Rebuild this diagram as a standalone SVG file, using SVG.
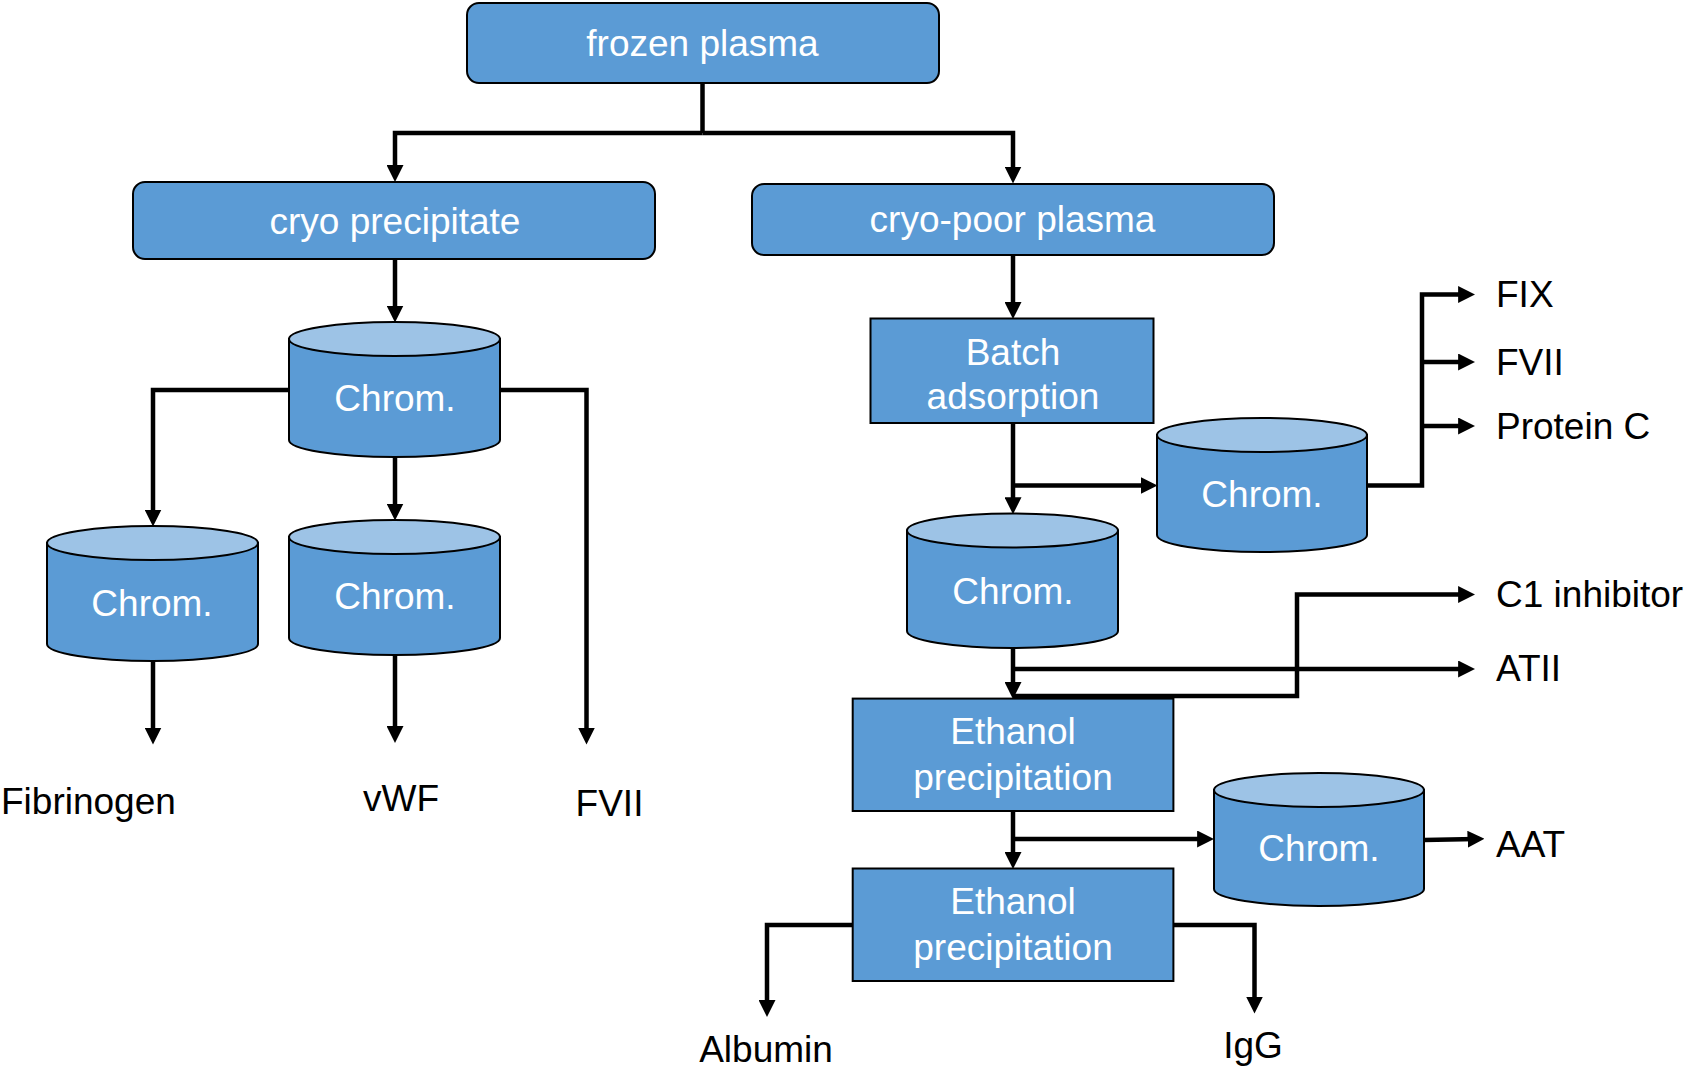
<svg xmlns="http://www.w3.org/2000/svg" width="1684" height="1074" viewBox="0 0 1684 1074">
<defs>
<style>
.box{fill:#5B9BD5;stroke:#000;stroke-width:2}
.top{fill:#9DC3E6;stroke:#000;stroke-width:2}
.nt{font-family:"Liberation Sans",Arial,sans-serif;font-size:37px;fill:#fff;text-anchor:middle}
.lb{font-family:"Liberation Sans",Arial,sans-serif;font-size:37px;fill:#000}
.c{fill:none;stroke:#000;stroke-width:4.5;marker-end:url(#ah)}
.cn{fill:none;stroke:#000;stroke-width:4.5}
</style>
<marker id="ah" viewBox="0 0 16 16" refX="8" refY="8" markerWidth="17" markerHeight="17" markerUnits="userSpaceOnUse" orient="auto">
<path d="M0,0 L16,8 L0,16 Z" fill="#000"/>
</marker>
</defs>
<rect width="1684" height="1074" fill="#fff"/>
<g id="connectors">
<path class="cn" d="M702.5,83 V133"/>
<path class="c" d="M702.5,133 H395 V173.5"/>
<path class="c" d="M702.5,133 H1013 V175"/>
<path class="c" d="M395,259 V314"/>
<path class="c" d="M289,390 H153 V518"/>
<path class="c" d="M395,457 V512"/>
<path class="c" d="M500,390 H586.5 V736"/>
<path class="c" d="M153,661 V736"/>
<path class="c" d="M395,655 V734.5"/>
<path class="c" d="M1013,255 V310.5"/>
<path class="c" d="M1013,423 V505.7"/>
<path class="c" d="M1013,485.6 H1149"/>
<path class="c" d="M1367,485.6 H1422 V294.5 H1466.6"/>
<path class="c" d="M1422,362 H1466.6"/>
<path class="c" d="M1422,426 H1466.6"/>
<path class="c" d="M1013,648 V690.6"/>
<path class="c" d="M1013,669 H1466.6"/>
<path class="c" d="M1013,696 H1297 V594.5 H1466.6"/>
<path class="c" d="M1013,811 V860.5"/>
<path class="c" d="M1013,839 H1205.6"/>
<path class="c" d="M1424,840 L1476,839"/>
<path class="c" d="M852.7,925 H767 V1008.5"/>
<path class="c" d="M1173.4,925 H1254.5 V1005"/>
</g>
<g id="frozen-plasma">
<rect class="box" x="467" y="3" width="472" height="80" rx="12"/>
<text class="nt" x="702.5" y="56">frozen plasma</text>
</g>
<g id="cryo-precipitate">
<rect class="box" x="133" y="182" width="522" height="77" rx="12"/>
<text class="nt" x="395" y="234">cryo precipitate</text>
</g>
<g id="cryo-poor-plasma">
<rect class="box" x="752" y="184" width="522" height="71" rx="12"/>
<text class="nt" x="1012.5" y="232">cryo-poor plasma</text>
</g>
<g id="chrom-1">
<path class="box" d="M289,339 V440 A105.5,17 0 0 0 500,440 V339 Z"/>
<ellipse class="top" cx="394.5" cy="339" rx="105.5" ry="17"/>
<text class="nt" x="395" y="411">Chrom.</text>
</g>
<g id="chrom-2">
<path class="box" d="M47,543 V644 A105.5,17 0 0 0 258,644 V543 Z"/>
<ellipse class="top" cx="152.5" cy="543" rx="105.5" ry="17"/>
<text class="nt" x="152" y="616">Chrom.</text>
</g>
<g id="chrom-3">
<path class="box" d="M289,537 V638 A105.5,17 0 0 0 500,638 V537 Z"/>
<ellipse class="top" cx="394.5" cy="537" rx="105.5" ry="17"/>
<text class="nt" x="395" y="609">Chrom.</text>
</g>
<g id="batch-adsorption">
<rect class="box" x="870.5" y="318.5" width="283" height="104.5"/>
<text class="nt" x="1013" y="365">Batch</text>
<text class="nt" x="1013" y="409">adsorption</text>
</g>
<g id="chrom-4">
<path class="box" d="M1157,435 V535 A105,17 0 0 0 1367,535 V435 Z"/>
<ellipse class="top" cx="1262" cy="435" rx="105" ry="17"/>
<text class="nt" x="1262" y="507">Chrom.</text>
</g>
<g id="chrom-5">
<path class="box" d="M907,530.5 V631 A105.5,17 0 0 0 1118,631 V530.5 Z"/>
<ellipse class="top" cx="1012.5" cy="530.5" rx="105.5" ry="17"/>
<text class="nt" x="1013" y="604">Chrom.</text>
</g>
<g id="ethanol-1">
<rect class="box" x="852.7" y="698.6" width="320.7" height="112.4"/>
<text class="nt" x="1013" y="744">Ethanol</text>
<text class="nt" x="1013" y="790">precipitation</text>
</g>
<g id="chrom-6">
<path class="box" d="M1214,790 V889 A105,17 0 0 0 1424,889 V790 Z"/>
<ellipse class="top" cx="1319" cy="790" rx="105" ry="17"/>
<text class="nt" x="1319" y="861">Chrom.</text>
</g>
<g id="ethanol-2">
<rect class="box" x="852.7" y="868.5" width="320.7" height="112.5"/>
<text class="nt" x="1013" y="914">Ethanol</text>
<text class="nt" x="1013" y="960">precipitation</text>
</g>
<g id="labels">
<text class="lb" x="1" y="814">Fibrinogen</text>
<text class="lb" x="401" y="811" text-anchor="middle">vWF</text>
<text class="lb" x="609.5" y="816" text-anchor="middle">FVII</text>
<text class="lb" x="1496" y="307">FIX</text>
<text class="lb" x="1496" y="375">FVII</text>
<text class="lb" x="1496" y="439">Protein C</text>
<text class="lb" x="1496" y="607">C1 inhibitor</text>
<text class="lb" x="1496" y="681">ATII</text>
<text class="lb" x="1496" y="857">AAT</text>
<text class="lb" x="766" y="1062" text-anchor="middle">Albumin</text>
<text class="lb" x="1253" y="1058" text-anchor="middle">IgG</text>
</g>
</svg>
